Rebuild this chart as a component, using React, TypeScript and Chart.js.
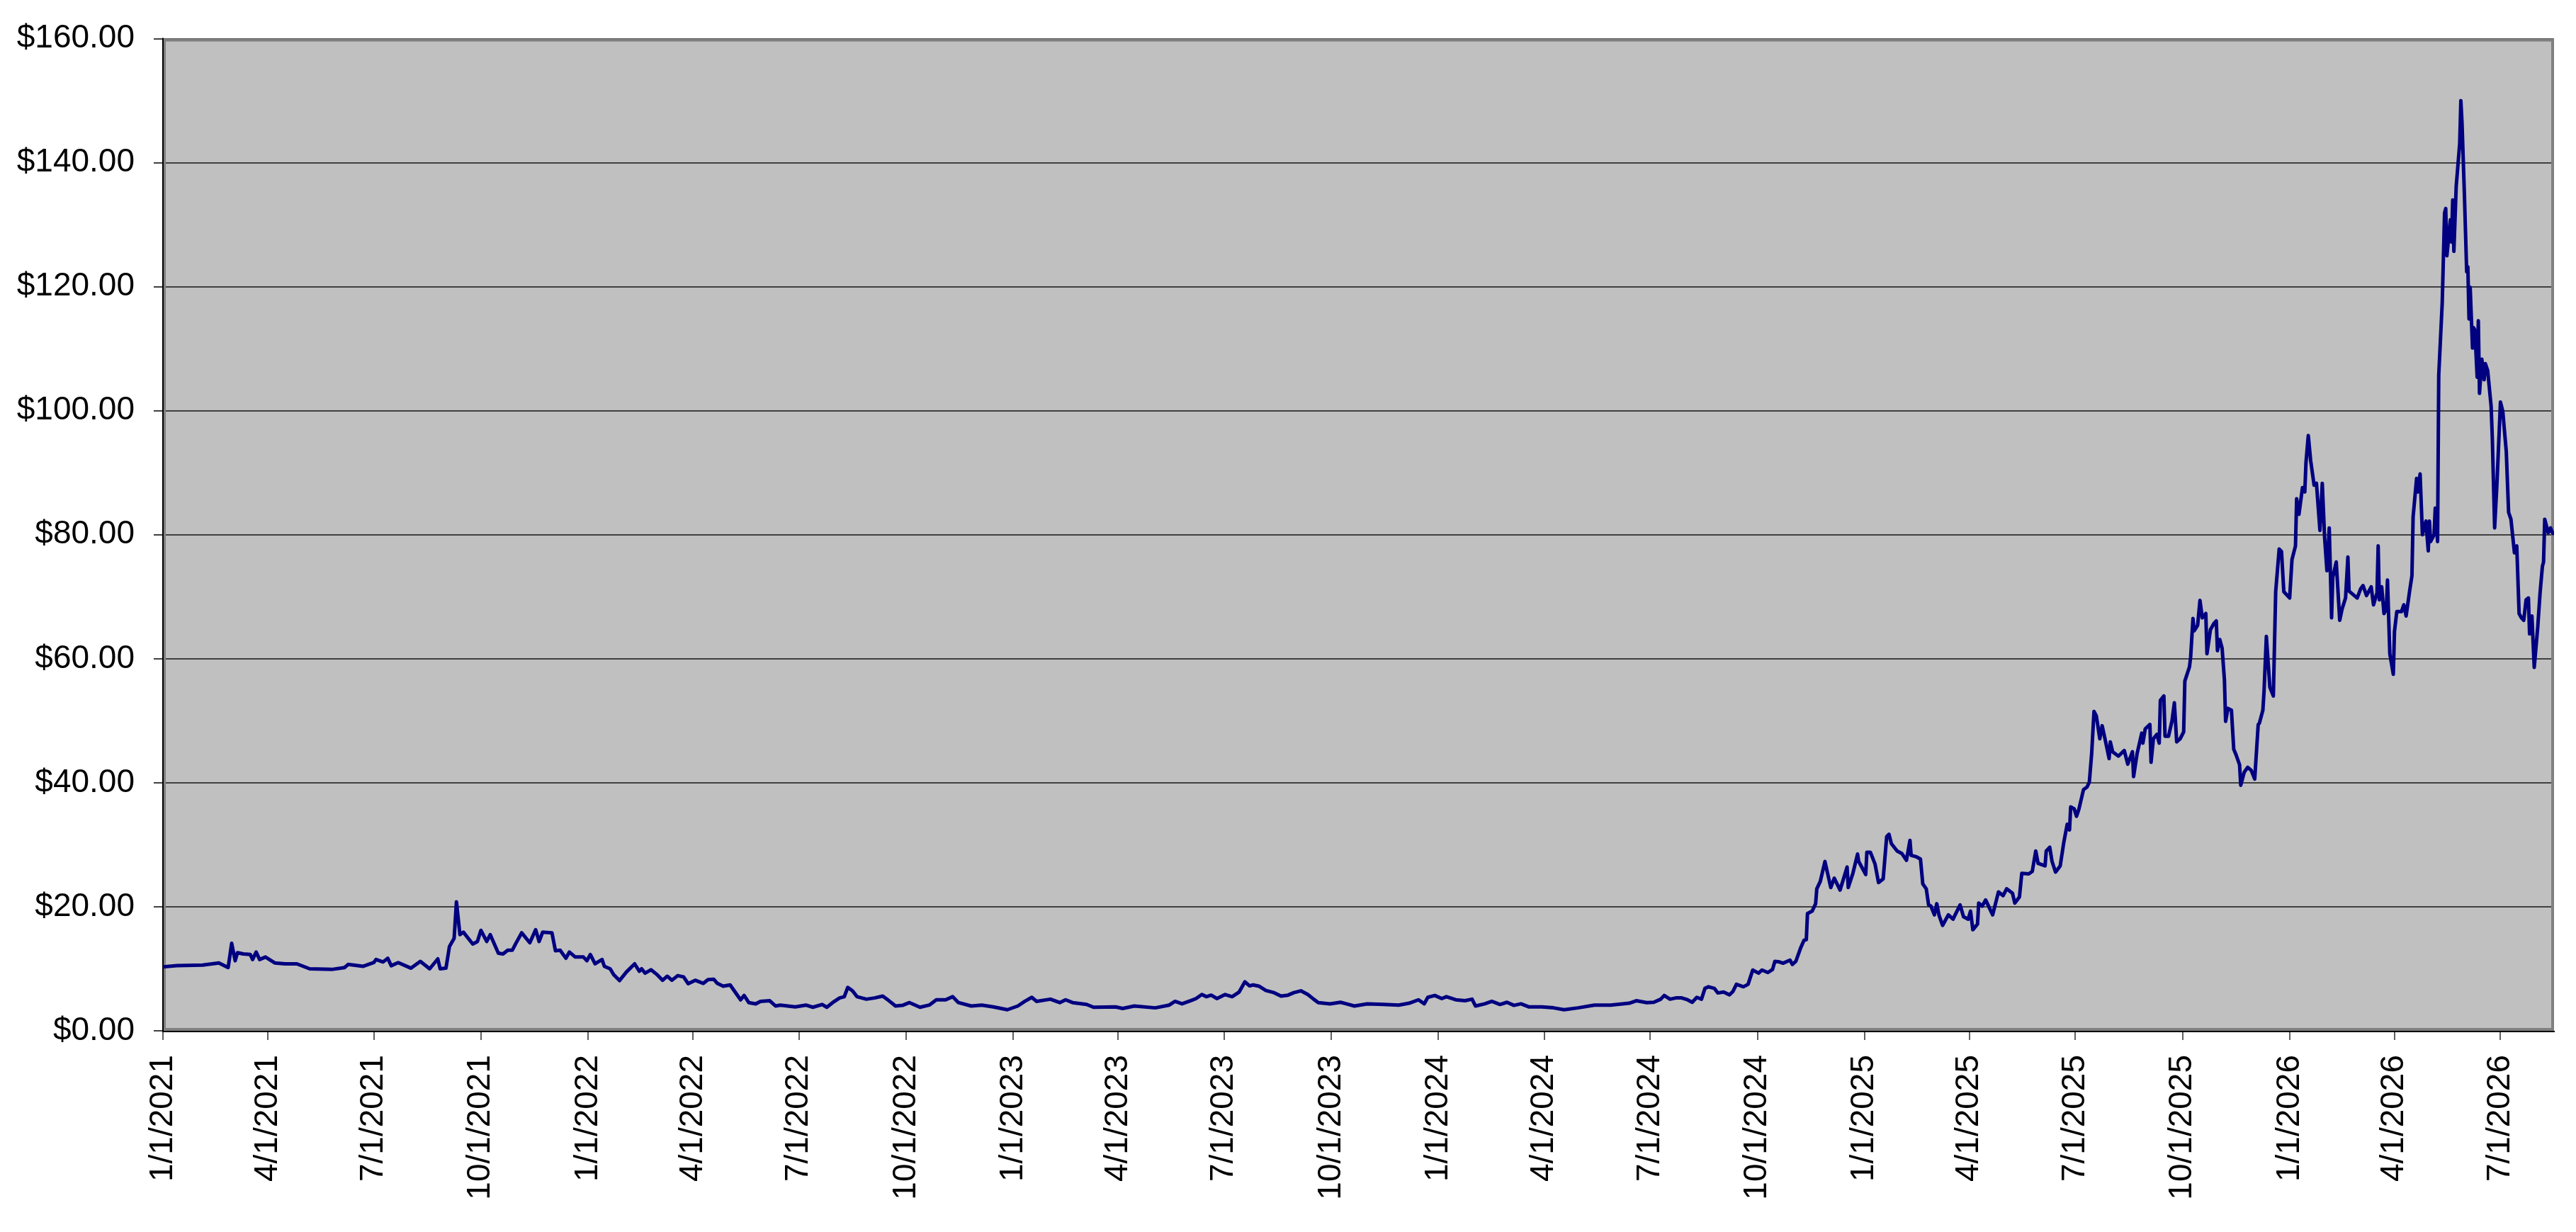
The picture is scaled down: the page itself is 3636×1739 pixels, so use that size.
import { useEffect, useRef } from "react";
import { Chart, registerables } from "chart.js";

Chart.register(...registerables);

const START = Date.UTC(2021, 0, 1);

// days since 1/1/2021
const dayOffsets = [
  0, 12, 34, 48, 56, 59, 62, 64, 69, 75, 77, 80, 83, 88, 96, 105, 115, 126, 145, 156,
  159, 172, 181, 183, 189, 193, 196, 202, 213, 221, 229, 236, 238, 243, 246, 250, 252, 255, 258, 266,
  270, 273, 278, 281, 288, 292, 296, 300, 303, 308, 315, 320, 323, 326, 334, 337, 341, 346, 349, 354,
  361, 364, 367, 371, 377, 379, 384, 387, 392, 398, 405, 409, 411, 414, 419, 424, 429, 433, 437, 442,
  447, 451, 457, 464, 468, 473, 476, 481, 487, 492, 496, 499, 503, 509, 513, 521, 526, 530, 543, 552,
  558, 566, 570, 575, 581, 585, 588, 592, 596, 604, 611, 618, 623, 629, 635, 641, 650, 658, 664, 672,
  678, 683, 694, 703, 713, 725, 734, 740, 746, 750, 762, 770, 775, 781, 793, 799, 818, 824, 834, 852,
  864, 869, 875, 883, 887, 892, 896, 900, 905, 912, 918, 924, 929, 933, 936, 941, 947, 954, 960, 966,
  971, 977, 983, 988, 992, 1002, 1011, 1016, 1023, 1034, 1048, 1061, 1070, 1078, 1083, 1086, 1092, 1098, 1102, 1110,
  1118, 1124, 1127, 1135, 1141, 1148, 1154, 1160, 1166, 1173, 1184, 1194, 1203, 1215, 1229, 1243, 1259, 1265, 1274, 1280,
  1286, 1289, 1294, 1299, 1304, 1309, 1313, 1317, 1321, 1324, 1327, 1332, 1335, 1340, 1345, 1348, 1351, 1357, 1361, 1365,
  1370, 1373, 1378, 1382, 1384, 1388, 1391, 1397, 1399, 1402, 1406, 1409, 1411, 1412, 1416, 1419, 1420, 1423, 1427, 1432,
  1435, 1440, 1446, 1447, 1451, 1455, 1456, 1462, 1463, 1466, 1470, 1473, 1477, 1480, 1482, 1484, 1489, 1493, 1497, 1500,
  1501, 1505, 1509, 1511, 1514, 1516, 1518, 1521, 1523, 1525, 1528, 1533, 1537, 1543, 1546, 1550, 1552, 1554, 1558, 1559,
  1562, 1565, 1571, 1576, 1580, 1583, 1588, 1590, 1594, 1596, 1602, 1605, 1608, 1610, 1616, 1617, 1620, 1622, 1625, 1629,
  1632, 1635, 1637, 1638, 1641, 1643, 1645, 1649, 1652, 1654, 1656, 1658, 1660, 1663, 1665, 1668, 1671, 1672, 1674, 1679,
  1684, 1687, 1691, 1692, 1695, 1699, 1700, 1702, 1706, 1707, 1709, 1712, 1714, 1715, 1718, 1719, 1722, 1725, 1727, 1729,
  1732, 1735, 1736, 1740, 1741, 1743, 1744, 1747, 1749, 1751, 1754, 1755, 1758, 1761, 1763, 1764, 1766, 1768, 1770, 1771,
  1773, 1776, 1778, 1780, 1783, 1784, 1787, 1790, 1793, 1796, 1799, 1800, 1803, 1804, 1806, 1809, 1812, 1814, 1817, 1819,
  1821, 1826, 1828, 1831, 1832, 1834, 1837, 1839, 1840, 1842, 1844, 1847, 1849, 1852, 1854, 1856, 1858, 1860, 1862, 1863,
  1866, 1869, 1871, 1874, 1876, 1877, 1884, 1887, 1889, 1892, 1896, 1898, 1901, 1902, 1903, 1905, 1907, 1909, 1910, 1912,
  1915, 1916, 1918, 1922, 1924, 1926, 1929, 1931, 1932, 1935, 1936, 1938, 1940, 1943, 1945, 1946, 1947, 1950, 1951, 1953,
  1954, 1957, 1959, 1960, 1961, 1964, 1965, 1966, 1967, 1969, 1972, 1973, 1974, 1976, 1978, 1979, 1980, 1981, 1983, 1984,
  1985, 1987, 1988, 1989, 1991, 1993, 1994, 1996, 1999, 2000, 2002, 2004, 2007, 2009, 2012, 2014, 2016, 2019, 2021, 2023,
  2025, 2027, 2029, 2031, 2032, 2034, 2036, 2039, 2041, 2043, 2044, 2045, 2048, 2050, 2052,
];

const prices = [
  10.3, 10.5, 10.6, 10.95, 10.2, 14.1, 11.3, 12.6, 12.4, 12.3, 11.5, 12.7, 11.5, 11.9, 10.95, 10.8, 10.8, 10.0, 9.9, 10.2,
  10.7, 10.4, 11.0, 11.5, 11.1, 11.7, 10.5, 11.0, 10.1, 11.2, 10.0, 11.6, 10.0, 10.1, 13.6, 14.9, 20.8, 15.5, 15.9, 14.0,
  14.4, 16.2, 14.4, 15.5, 12.5, 12.4, 13.0, 13.0, 14.1, 15.8, 14.2, 16.3, 14.4, 15.9, 15.8, 12.9, 13.0, 11.7, 12.7, 11.9,
  11.9, 11.3, 12.3, 10.8, 11.5, 10.4, 10.0, 9.05, 8.1, 9.5, 10.8, 9.6, 10.0, 9.3, 9.85, 9.1, 8.15, 8.8, 8.15, 8.9,
  8.7, 7.6, 8.15, 7.65, 8.25, 8.3, 7.65, 7.2, 7.4, 6.05, 5.0, 5.7, 4.55, 4.35, 4.75, 4.85, 4.0, 4.15, 3.85, 4.15,
  3.8, 4.25, 3.8, 4.55, 5.3, 5.5, 7.0, 6.45, 5.5, 5.1, 5.3, 5.6, 4.9, 4.0, 4.1, 4.55, 3.8, 4.15, 5.0, 5.0,
  5.5, 4.55, 4.0, 4.15, 3.85, 3.4, 4.0, 4.75, 5.4, 4.75, 5.1, 4.55, 5.0, 4.55, 4.25, 3.8, 3.85, 3.6, 4.0, 3.7,
  4.15, 4.75, 4.35, 4.9, 5.2, 5.85, 5.5, 5.75, 5.2, 5.85, 5.5, 6.25, 7.9, 7.25, 7.4, 7.2, 6.5, 6.15, 5.6, 5.75,
  6.15, 6.45, 5.85, 5.1, 4.55, 4.35, 4.6, 4.35, 4.0, 4.35, 4.25, 4.15, 4.45, 5.0, 4.35, 5.4, 5.7, 5.2, 5.5, 5.0,
  4.85, 5.1, 4.0, 4.35, 4.75, 4.25, 4.6, 4.1, 4.35, 3.85, 3.85, 3.7, 3.4, 3.7, 4.15, 4.15, 4.45, 4.85, 4.55, 4.6,
  5.1, 5.7, 5.1, 5.3, 5.3, 5.0, 4.6, 5.4, 5.1, 6.85, 7.1, 6.85, 6.1, 6.25, 5.8, 6.35, 7.5, 7.1, 7.5, 9.8,
  9.3, 9.8, 9.4, 9.9, 11.2, 11.1, 10.9, 11.4, 10.7, 11.2, 13.3, 14.6, 14.7, 18.9, 19.3, 20.5, 22.9, 24.1, 27.3, 23.1,
  24.6, 22.7, 26.4, 23.1, 25.4, 28.5, 27.3, 25.2, 28.8, 28.8, 26.9, 23.9, 24.5, 31.3, 31.7, 30.2, 29.0, 28.6, 27.5, 30.7,
  28.3, 28.1, 27.7, 23.7, 22.9, 20.3, 20.1, 18.7, 20.5, 18.6, 17.0, 18.7, 18.0, 20.3, 18.4, 18.0, 19.3, 16.3, 17.2, 20.6,
  20.1, 21.1, 18.7, 22.4, 21.8, 22.9, 22.2, 20.6, 21.6, 25.4, 25.3, 25.7, 29.0, 27.0, 26.6, 29.0, 29.6, 27.3, 25.6, 26.6,
  30.3, 33.3, 32.4, 36.1, 35.8, 34.6, 35.7, 38.9, 39.3, 40.1, 44.7, 51.5, 50.8, 47.1, 49.2, 46.6, 43.9, 46.6, 45.0, 44.3,
  45.2, 43.0, 45.0, 41.0, 44.7, 48.0, 46.4, 48.7, 49.4, 43.3, 47.1, 47.8, 46.4, 53.3, 54.0, 47.5, 47.5, 50.0, 52.9, 46.6,
  47.1, 48.2, 56.4, 58.7, 60.3, 66.5, 64.5, 65.4, 69.4, 66.6, 67.3, 60.8, 64.7, 65.7, 66.1, 61.3, 63.1, 61.7, 56.6, 49.9,
  52.0, 51.7, 45.4, 44.5, 42.9, 39.6, 41.7, 42.5, 42.0, 40.6, 49.4, 49.6, 51.7, 54.7, 63.6, 55.4, 54.0, 70.8, 77.7, 77.3,
  70.8, 69.8, 76.0, 78.2, 85.8, 83.3, 87.6, 86.9, 91.6, 96.0, 92.0, 88.0, 88.3, 80.7, 88.3, 79.6, 74.2, 81.1, 66.6, 73.1,
  75.6, 66.2, 68.0, 69.8, 76.4, 70.9, 69.8, 71.3, 71.8, 70.2, 71.6, 68.7, 70.6, 78.2, 69.5, 71.6, 67.3, 68.0, 72.7, 60.8,
  57.5, 64.4, 67.6, 67.6, 68.7, 66.9, 70.9, 73.4, 82.9, 89.1, 86.9, 89.8, 80.0, 82.2, 77.4, 82.2, 78.9, 80.0, 84.3, 78.9,
  105.7, 117.4, 131.9, 132.6, 125.0, 130.8, 127.2, 134.0, 125.7, 136.2, 143.1, 150.0, 146.4, 135.1, 122.4, 123.2, 114.8, 119.9, 110.1, 113.4,
  113.0, 105.4, 114.5, 102.8, 108.3, 105.0, 107.6, 106.5, 100.7, 95.6, 81.1, 88.3, 101.4, 99.9, 93.4, 83.6, 82.5, 77.1, 78.2, 67.3,
  66.6, 66.2, 69.5, 69.8, 64.0, 66.9, 58.6, 65.1, 70.6, 74.9, 75.6, 82.5, 80.3, 81.1, 80.2,
];

const tickLabels = [
  "1/1/2021", "4/1/2021", "7/1/2021", "10/1/2021",
  "1/1/2022", "4/1/2022", "7/1/2022", "10/1/2022",
  "1/1/2023", "4/1/2023", "7/1/2023", "10/1/2023",
  "1/1/2024", "4/1/2024", "7/1/2024", "10/1/2024",
  "1/1/2025", "4/1/2025", "7/1/2025", "10/1/2025",
  "1/1/2026", "4/1/2026", "7/1/2026",
];

const xEnd = 2053; // mid August 2026
const yMax = 160;
const yStep = 20;

function labelToDay(label: string) {
  const [m, d, y] = label.split("/").map(Number);
  return Math.round((Date.UTC(y, m - 1, d) - START) / 86400000);
}

const tickDays = tickLabels.map(labelToDay);

const W = 3636;
const H = 1739;
const FONT = { family: "'Liberation Sans', Arial, sans-serif", size: 46 };

const plotFrame = {
  id: "plotFrame",
  beforeDraw(chart: any) {
    const { ctx, chartArea: a } = chart;
    ctx.save();
    ctx.fillStyle = "#c0c0c0";
    ctx.fillRect(a.left, a.top, a.right - a.left, a.bottom - a.top);
    ctx.restore();
  },
  beforeDatasetsDraw(chart: any) {
    const { ctx, chartArea: a } = chart;
    ctx.save();
    ctx.strokeStyle = "#808080";
    ctx.lineWidth = 4;
    ctx.strokeRect(a.left + 2, a.top + 2, a.right - a.left - 4, a.bottom - a.top - 4);
    ctx.strokeStyle = "#000000";
    ctx.lineWidth = 2;
    ctx.beginPath();
    ctx.moveTo(a.left, a.top - 1);
    ctx.lineTo(a.left, a.bottom + 1);
    ctx.lineTo(a.right + 1, a.bottom + 1);
    ctx.stroke();
    ctx.restore();
  },
};

export default function App() {
  const canvasRef = useRef<HTMLCanvasElement>(null);

  useEffect(() => {
    document.body.style.margin = "0";
    const canvas = canvasRef.current;
    if (!canvas) return;

    const chart = new Chart(canvas, {
      type: "line",
      data: {
        datasets: [
          {
            data: dayOffsets.map((d, i) => ({ x: d, y: prices[i] })),
            borderColor: "#000080",
            borderWidth: 5,
            borderJoinStyle: "round",
            borderCapStyle: "round",
            pointRadius: 0,
            tension: 0,
            fill: false,
          },
        ],
      },
      options: {
        responsive: false,
        devicePixelRatio: 1,
        animation: false,
        events: [],
        layout: { padding: { top: 43, right: 31, left: 0, bottom: 0 } },
        plugins: { legend: { display: false }, tooltip: { enabled: false } },
        scales: {
          x: {
            type: "linear",
            min: 0,
            max: xEnd,
            afterBuildTicks: (scale: any) => {
              scale.ticks = tickDays.map((v) => ({ value: v }));
            },
            afterFit: (scale: any) => {
              scale.height = H - 1455;
            },
            ticks: {
              autoSkip: false,
              minRotation: 90,
              maxRotation: 90,
              padding: 21,
              color: "#000",
              font: FONT,
              callback: (v: any) => tickLabels[tickDays.indexOf(Number(v))] ?? "",
            },
            grid: {
              drawOnChartArea: false,
              drawTicks: true,
              tickLength: 13,
              tickColor: "#606060",
              lineWidth: 2,
            },
            border: { display: false },
          },
          y: {
            min: 0,
            max: yMax,
            afterFit: (scale: any) => {
              scale.width = 230;
            },
            ticks: {
              stepSize: yStep,
              padding: 27,
              color: "#000",
              font: FONT,
              callback: (v: any) => "$" + Number(v).toFixed(2),
            },
            grid: {
              color: "#404040",
              lineWidth: 2,
              tickLength: 13,
              tickColor: "#404040",
            },
            border: { display: false },
          },
        },
      },
      plugins: [plotFrame],
    });

    return () => chart.destroy();
  }, []);

  return (
    <div style={{ width: W, height: H, background: "#fff" }}>
      <canvas ref={canvasRef} width={W} height={H} />
    </div>
  );
}
